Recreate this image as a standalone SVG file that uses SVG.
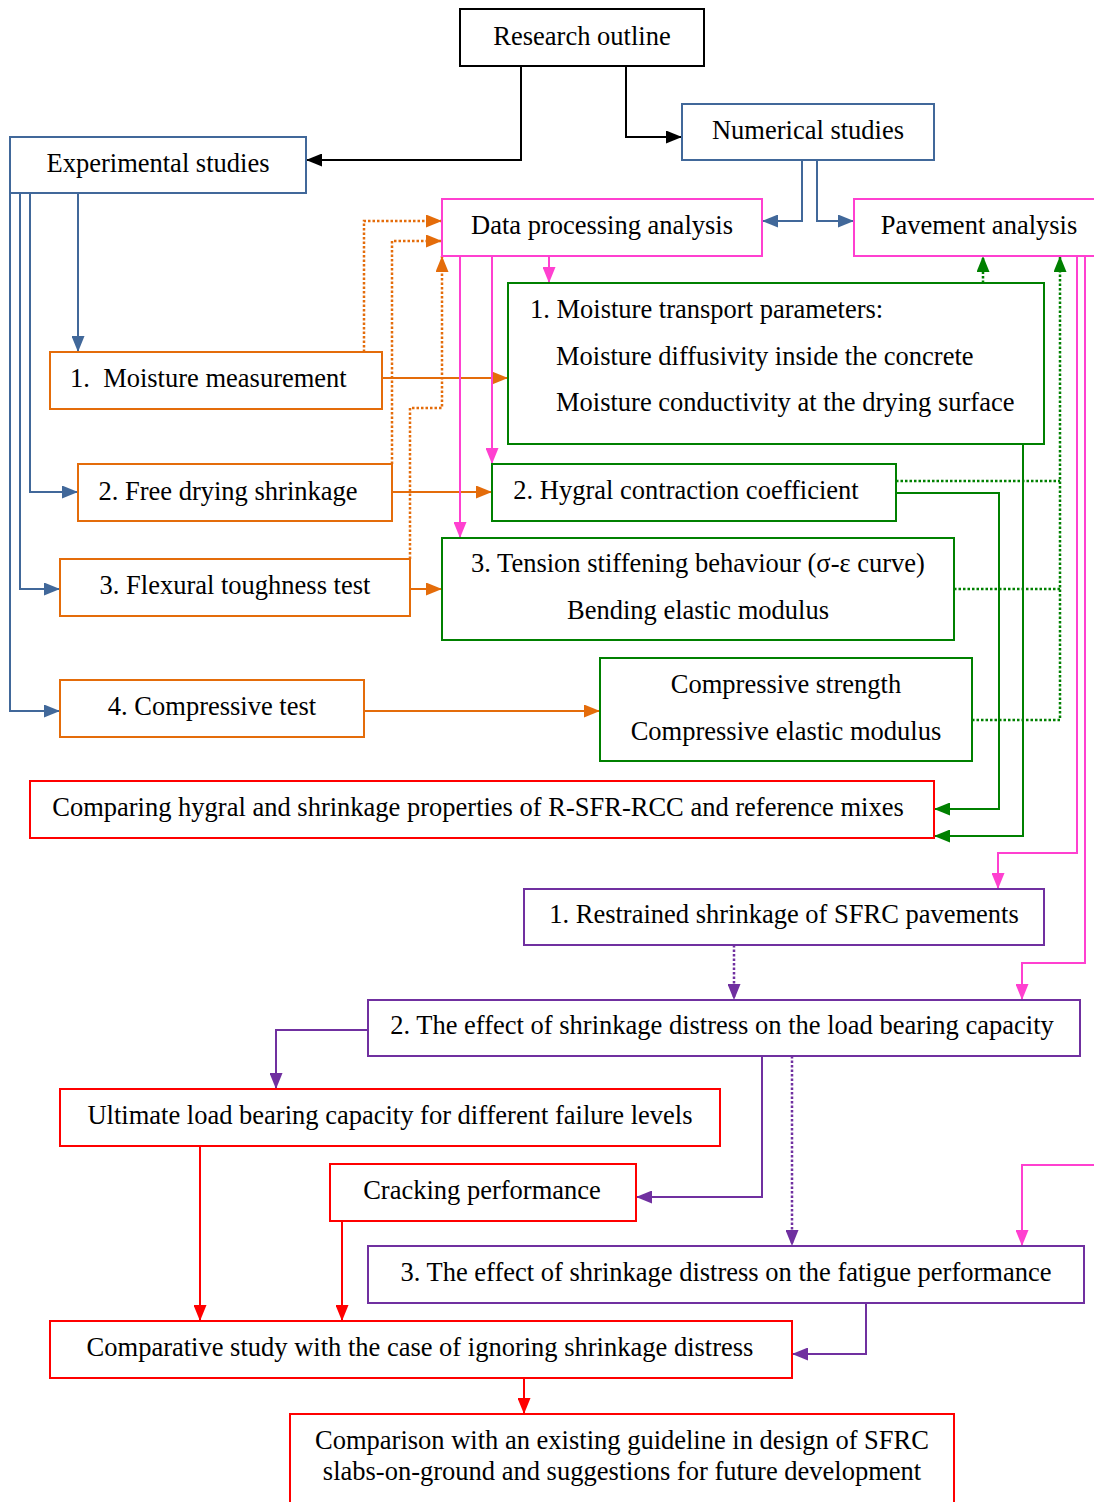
<svg xmlns="http://www.w3.org/2000/svg" width="1094" height="1502" viewBox="0 0 1094 1502">
<style>
text{font-family:"Liberation Serif","Times New Roman",serif;font-size:26.5px;fill:#000;text-anchor:middle}
.n rect{fill:#fff;stroke-width:2}
.k{stroke:#000}.b{stroke:#41689a}.o{stroke:#e46c0a}.m{stroke:#ff40d0}.g{stroke:#008000}.p{stroke:#7030a0}.r{stroke:#ff0000}
#conn path{fill:none;stroke-width:2}
#conn path.d{stroke-dasharray:2.5 2;stroke-width:2.5}
</style>
<defs>
<marker id="ak" viewBox="0 0 16 13" refX="16" refY="6.5" markerWidth="16" markerHeight="13" orient="auto" markerUnits="userSpaceOnUse"><path d="M0,0L16,6.5L0,13z" fill="#000"/></marker>
<marker id="ab" viewBox="0 0 16 13" refX="16" refY="6.5" markerWidth="16" markerHeight="13" orient="auto" markerUnits="userSpaceOnUse"><path d="M0,0L16,6.5L0,13z" fill="#41689a"/></marker>
<marker id="ao" viewBox="0 0 16 13" refX="16" refY="6.5" markerWidth="16" markerHeight="13" orient="auto" markerUnits="userSpaceOnUse"><path d="M0,0L16,6.5L0,13z" fill="#e46c0a"/></marker>
<marker id="am" viewBox="0 0 16 13" refX="16" refY="6.5" markerWidth="16" markerHeight="13" orient="auto" markerUnits="userSpaceOnUse"><path d="M0,0L16,6.5L0,13z" fill="#ff40d0"/></marker>
<marker id="ag" viewBox="0 0 16 13" refX="16" refY="6.5" markerWidth="16" markerHeight="13" orient="auto" markerUnits="userSpaceOnUse"><path d="M0,0L16,6.5L0,13z" fill="#008000"/></marker>
<marker id="ap" viewBox="0 0 16 13" refX="16" refY="6.5" markerWidth="16" markerHeight="13" orient="auto" markerUnits="userSpaceOnUse"><path d="M0,0L16,6.5L0,13z" fill="#7030a0"/></marker>
<marker id="ar" viewBox="0 0 16 13" refX="16" refY="6.5" markerWidth="16" markerHeight="13" orient="auto" markerUnits="userSpaceOnUse"><path d="M0,0L16,6.5L0,13z" fill="#ff0000"/></marker>
</defs>

<g id="conn">
<path class="k" d="M521,66V160H306" marker-end="url(#ak)"/>
<path class="k" d="M626,66V137H682" marker-end="url(#ak)"/>
<path class="b" d="M802,160V221H762" marker-end="url(#ab)"/>
<path class="b" d="M817,160V221H854" marker-end="url(#ab)"/>
<path class="b" d="M78,193V352" marker-end="url(#ab)"/>
<path class="b" d="M30,193V492H78" marker-end="url(#ab)"/>
<path class="b" d="M20,193V589H60" marker-end="url(#ab)"/>
<path class="b" d="M10,193V711H60" marker-end="url(#ab)"/>
<path class="o" d="M382,378H508" marker-end="url(#ao)"/>
<path class="o d" d="M364,352V221H442" marker-end="url(#ao)"/>
<path class="o d" d="M392,464V241H442" marker-end="url(#ao)"/>
<path class="o d" d="M410,559V408H442V256" marker-end="url(#ao)"/>
<path class="o" d="M392,492H492" marker-end="url(#ao)"/>
<path class="o" d="M410,589H442" marker-end="url(#ao)"/>
<path class="o" d="M364,711H600" marker-end="url(#ao)"/>
<path class="m" d="M549,256V283" marker-end="url(#am)"/>
<path class="m" d="M492,256V464" marker-end="url(#am)"/>
<path class="m" d="M460,256V538" marker-end="url(#am)"/>
<path class="m" d="M1077,256V853H998V889" marker-end="url(#am)"/>
<path class="m" d="M1085,256V963H1022V1000" marker-end="url(#am)"/>
<path class="m" d="M1094,1165H1022V1246" marker-end="url(#am)"/>
<path class="g d" d="M983,283V256" marker-end="url(#ag)"/>
<path class="g d" d="M972,720H1060V256" marker-end="url(#ag)"/>
<path class="g d" d="M896,481H1060"/>
<path class="g d" d="M954,589H1060"/>
<path class="g" d="M896,493H999V809H934" marker-end="url(#ag)"/>
<path class="g" d="M1023,444V836H934" marker-end="url(#ag)"/>
<path class="p d" d="M734,945V1000" marker-end="url(#ap)"/>
<path class="p" d="M368,1030H276V1089" marker-end="url(#ap)"/>
<path class="p" d="M762,1056V1197H636" marker-end="url(#ap)"/>
<path class="p d" d="M792,1056V1246" marker-end="url(#ap)"/>
<path class="p" d="M866,1303V1354H792" marker-end="url(#ap)"/>
<path class="r" d="M200,1146V1321" marker-end="url(#ar)"/>
<path class="r" d="M342,1221V1321" marker-end="url(#ar)"/>
<path class="r" d="M524,1378V1414" marker-end="url(#ar)"/>
</g>

<g id="research" class="n"><rect class="k" x="460" y="9" width="244" height="57"/><text x="582" y="45">Research outline</text></g>
<g id="numerical" class="n"><rect class="b" x="682" y="104" width="252" height="56"/><text x="808" y="139">Numerical studies</text></g>
<g id="experimental" class="n"><rect class="b" x="10" y="137" width="296" height="56"/><text x="158" y="172">Experimental studies</text></g>
<g id="dataproc" class="n"><rect class="m" x="442" y="199" width="320" height="57"/><text x="602" y="234">Data processing analysis</text></g>
<g id="pavement" class="n"><rect class="m" x="854" y="199" width="260" height="57"/><text x="979" y="234">Pavement analysis</text></g>
<g id="moisttransport" class="n"><rect class="g" x="508" y="283" width="536" height="161"/>
<text x="530" y="318" style="text-anchor:start">1. Moisture transport parameters:</text>
<text x="556" y="365" style="text-anchor:start">Moisture diffusivity inside the concrete</text>
<text x="556" y="411" style="text-anchor:start">Moisture conductivity at the drying surface</text></g>
<g id="moistmeas" class="n"><rect class="o" x="50" y="352" width="332" height="57"/><text x="70" y="387" style="text-anchor:start;white-space:pre">1.  Moisture measurement</text></g>
<g id="freedry" class="n"><rect class="o" x="78" y="464" width="314" height="57"/><text x="228" y="500">2. Free drying shrinkage</text></g>
<g id="hygral" class="n"><rect class="g" x="492" y="464" width="404" height="57"/><text x="686" y="499">2. Hygral contraction coefficient</text></g>
<g id="flexural" class="n"><rect class="o" x="60" y="559" width="350" height="57"/><text x="235" y="594">3. Flexural toughness test</text></g>
<g id="tension" class="n"><rect class="g" x="442" y="538" width="512" height="102"/><text x="698" y="572">3. Tension stiffening behaviour (σ-ε curve)</text><text x="698" y="619">Bending elastic modulus</text></g>
<g id="compressive" class="n"><rect class="o" x="60" y="680" width="304" height="57"/><text x="212" y="715">4. Compressive test</text></g>
<g id="compstrength" class="n"><rect class="g" x="600" y="658" width="372" height="103"/><text x="786" y="693">Compressive strength</text><text x="786" y="740">Compressive elastic modulus</text></g>
<g id="comparing" class="n"><rect class="r" x="30" y="781" width="904" height="57"/><text x="478" y="816">Comparing hygral and shrinkage properties of R-SFR-RCC and reference mixes</text></g>
<g id="restrained" class="n"><rect class="p" x="524" y="889" width="520" height="56"/><text x="784" y="923">1. Restrained shrinkage of SFRC pavements</text></g>
<g id="loadbearing" class="n"><rect class="p" x="368" y="1000" width="712" height="56"/><text x="722" y="1034">2. The effect of shrinkage distress on the load bearing capacity</text></g>
<g id="ultimate" class="n"><rect class="r" x="60" y="1089" width="660" height="57"/><text x="390" y="1124">Ultimate load bearing capacity for different failure levels</text></g>
<g id="cracking" class="n"><rect class="r" x="330" y="1164" width="306" height="57"/><text x="482" y="1199">Cracking performance</text></g>
<g id="fatigue" class="n"><rect class="p" x="368" y="1246" width="716" height="57"/><text x="726" y="1281">3. The effect of shrinkage distress on the fatigue performance</text></g>
<g id="comparative" class="n"><rect class="r" x="50" y="1321" width="742" height="57"/><text x="420" y="1356">Comparative study with the case of ignoring shrinkage distress</text></g>
<g id="guideline" class="n"><rect class="r" x="290" y="1414" width="664" height="100"/><text x="622" y="1449">Comparison with an existing guideline in design of SFRC</text><text x="622" y="1480">slabs-on-ground and suggestions for future development</text></g>
</svg>
